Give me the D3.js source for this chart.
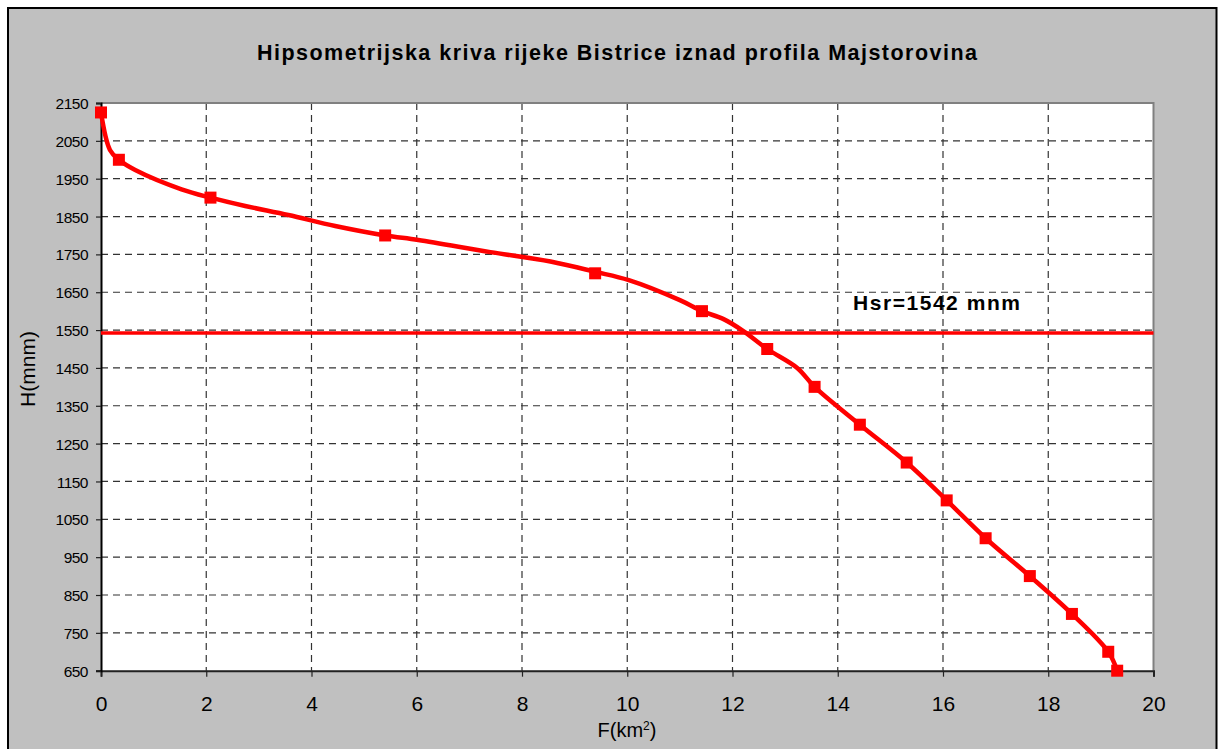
<!DOCTYPE html>
<html><head><meta charset="utf-8">
<script src="https://cdn.jsdelivr.net/npm/d3@7/dist/d3.min.js"></script>
<style>html,body{margin:0;padding:0;background:#fff;}svg{display:block;}</style>
</head><body>
<script>
// ---- data ----
const markerF = [0, 0.34, 2.08, 5.40, 9.39, 11.42, 12.66, 13.56, 14.42, 15.31, 16.07, 16.81, 17.65, 18.45, 19.14, 19.31];
const markerH = [2125, 2000, 1900, 1800, 1700, 1600, 1500, 1400, 1300, 1200, 1100, 1000, 900, 800, 700, 650];
const curveF = [0, 0.17, 0.34, 0.65, 1.53, 2.08, 2.74, 3.56, 4.45, 5.40, 6.03, 7.40, 8.54, 9.39, 10.03, 11.0, 11.42, 11.83, 12.2, 12.66, 13.23, 13.56, 14.42, 15.31, 16.07, 16.81, 17.65, 18.45, 19.14, 19.31];
const curveH = [2125, 2026, 2000, 1973, 1922, 1900, 1878, 1854, 1825, 1800, 1788, 1756, 1731, 1704, 1682, 1629, 1600, 1579, 1548, 1500, 1450, 1400, 1300, 1200, 1100, 1000, 900, 800, 700, 650];
const hsr = 1542;
const xTicks = [0, 2, 4, 6, 8, 10, 12, 14, 16, 18, 20];
const yTicks = [650, 750, 850, 950, 1050, 1150, 1250, 1350, 1450, 1550, 1650, 1750, 1850, 1950, 2050, 2150];
const titleText = "Hipsometrijska kriva rijeke Bistrice iznad profila Majstorovina";
const hsrLabel = "Hsr=1542 mnm";
const yLabel = "H(mnm)";

const W = 1222, H = 749;
const font = "'Liberation Sans', Arial, sans-serif";
const svg = d3.select("body").append("svg").attr("width", W).attr("height", H);

// chart area
svg.append("rect").attr("x", 8).attr("y", 8).attr("width", 1208.5).attr("height", 780)
  .attr("fill", "#c0c0c0").attr("stroke", "#000").attr("stroke-width", 2);

const x = d3.scaleLinear().domain([0, 20]).range([101, 1153.5]);
const y = d3.scaleLinear().domain([650, 2150]).range([670.7, 103]);

// plot area
svg.append("rect").attr("x", x(0)).attr("y", y(2150)).attr("width", x(20) - x(0)).attr("height", y(650) - y(2150))
  .attr("fill", "#fff");

// gridlines
const grid = svg.append("g").attr("stroke", "#333").attr("stroke-width", 1.2).attr("stroke-dasharray", "7,5");
grid.selectAll("line.h").data(yTicks.filter(d => d > 650 && d < 2150)).join("line")
  .attr("x1", x(0)).attr("x2", x(20)).attr("y1", d => y(d)).attr("y2", d => y(d));
grid.selectAll("line.v").data(xTicks.filter(d => d > 0 && d < 20)).join("line")
  .attr("class", "v")
  .attr("y1", y(2150)).attr("y2", y(650)).attr("x1", d => x(d)).attr("x2", d => x(d));

// plot border (top/right gray)
svg.append("path").attr("d", `M${x(0)},${y(2150)}H${x(20)}V${y(650)}`)
  .attr("fill", "none").attr("stroke", "#808080").attr("stroke-width", 2);

// axes
const xAxis = d3.axisBottom(x).tickValues(xTicks).tickSize(6).tickFormat(d3.format("d"));
const gx = svg.append("g").attr("transform", `translate(0,${y(650)})`).call(xAxis);
gx.select(".domain").attr("stroke", "#222").attr("stroke-width", 2);
gx.selectAll(".tick line").attr("stroke", "#222").attr("stroke-width", 1.2);
gx.selectAll(".tick text").attr("font-family", font).attr("font-size", 21).attr("fill", "#000")
  .attr("y", 0).attr("dy", 0).attr("transform", "translate(0,40)");

const yAxis = d3.axisLeft(y).tickValues(yTicks).tickSize(5).tickFormat(d3.format("d"));
const gy = svg.append("g").attr("transform", `translate(${x(0)},0)`).call(yAxis);
gy.select(".domain").attr("stroke", "#000").attr("stroke-width", 2);
gy.selectAll(".tick line").attr("stroke", "#222").attr("stroke-width", 1.2);
gy.selectAll(".tick text").attr("font-family", font).attr("font-size", 15.5).attr("fill", "#000")
  .attr("x", -13).attr("dy", "0.36em").attr("letter-spacing", "-0.5");

// Hsr line
svg.append("line").attr("x1", x(0)).attr("x2", x(20)).attr("y1", y(hsr)).attr("y2", y(hsr))
  .attr("stroke", "#ff0000").attr("stroke-width", 3.5);

// curve
const pts = curveF.map((f, i) => [f, curveH[i]]);
const line = d3.line().x(d => x(d[0])).y(d => y(d[1])).curve(d3.curveCatmullRom.alpha(0.5));
svg.append("path").attr("d", line(pts)).attr("fill", "none").attr("stroke", "#ff0000")
  .attr("stroke-width", 4.5).attr("stroke-linejoin", "round");

// markers
const mk = markerF.map((f, i) => [f, markerH[i]]);
svg.selectAll("rect.m").data(mk).join("rect").attr("class", "m")
  .attr("x", d => x(d[0]) - 6).attr("y", d => y(d[1]) - 6).attr("width", 12).attr("height", 12)
  .attr("fill", "#ff0000");

// title
svg.append("text").attr("x", 617).attr("y", 60).attr("text-anchor", "middle")
  .attr("font-family", font).attr("font-weight", "bold").attr("font-size", 21.5)
  .attr("textLength", 720).attr("lengthAdjust", "spacing").text(titleText);

// Hsr label
svg.append("text").attr("x", 853).attr("y", 310)
  .attr("font-family", font).attr("font-weight", "bold").attr("font-size", 21)
  .attr("textLength", 167).attr("lengthAdjust", "spacing").text(hsrLabel);

// axis titles
const xl = svg.append("text").attr("x", 627).attr("y", 737).attr("text-anchor", "middle")
  .attr("font-family", font).attr("font-size", 20);
xl.append("tspan").text("F(km");
xl.append("tspan").attr("font-size", 12).attr("dy", -7).text("2");
xl.append("tspan").attr("dy", 7).text(")");

svg.append("text").attr("transform", "translate(35,369) rotate(-90)").attr("text-anchor", "middle")
  .attr("font-family", font).attr("font-size", 21).text(yLabel);
</script>
</body></html>
